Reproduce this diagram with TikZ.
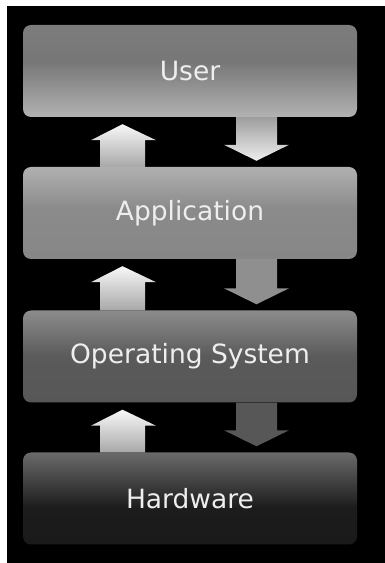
\documentclass[tikz,border=0pt]{standalone}
\usepackage{fontspec}
\setmainfont{DejaVu Sans}
\usetikzlibrary{calc}
\definecolor{ua}{HTML}{7C7C7C}
\definecolor{ub}{HTML}{777777}
\definecolor{uc}{HTML}{B2B2B2}
\definecolor{aa}{HTML}{B0B0B0}
\definecolor{ab}{HTML}{8A8A8A}
\definecolor{ac}{HTML}{878787}
\definecolor{oa}{HTML}{8C8C8C}
\definecolor{ob}{HTML}{5A5A5A}
\definecolor{oc}{HTML}{575757}
\definecolor{ha}{HTML}{6A6A6A}
\definecolor{hb}{HTML}{1C1C1C}
\definecolor{hc}{HTML}{1A1A1A}
\definecolor{txt}{HTML}{EEEEEE}
\pgfdeclareverticalshading{usershade}{100bp}{color(0bp)=(uc); color(25bp)=(uc); color(55bp)=(ub); color(75bp)=(ua); color(100bp)=(ua)}
\pgfdeclareverticalshading{appshade}{100bp}{color(0bp)=(ac); color(25bp)=(ac); color(52bp)=(ab); color(75bp)=(aa); color(100bp)=(aa)}
\pgfdeclareverticalshading{osshade}{100bp}{color(0bp)=(oc); color(25bp)=(oc); color(50bp)=(ob); color(75bp)=(oa); color(100bp)=(oa)}
\pgfdeclareverticalshading{hwshade}{100bp}{color(0bp)=(hc); color(25bp)=(hc); color(45bp)=(hb); color(75bp)=(ha); color(100bp)=(ha)}
\newcommand\dnblock[3]{%
  \path[#3] let \p1=(#1.south), \p2=(#2.north) in
    (236pt,\y1) -- (277pt,\y1) -- (277pt,{\y2+22pt}) -- (289pt,{\y2+22pt})
    -- (256.5pt,{\y2+6pt}) -- (224pt,{\y2+22pt}) -- (236pt,{\y2+22pt}) -- cycle;}
\newcommand\upblock[3]{%
  \path[#3] let \p1=(#1.south), \p2=(#2.north) in
    (100pt,\y2) -- (145pt,\y2) -- (145pt,{\y1-23pt}) -- (156pt,{\y1-23pt})
    -- (122.5pt,{\y1-7pt}) -- (91pt,{\y1-23pt}) -- (100pt,{\y1-23pt}) -- cycle;}
\tikzset{
  layer/.style={rounded corners=8pt, minimum width=334pt, minimum height=92pt,
    inner sep=0pt, text=txt, font=\fontsize{26.5}{30}\selectfont},
  uparrow/.style={shade, top color=white!97!black, bottom color=black!34},
}
\begin{document}
\begin{tikzpicture}[x=1pt,y=1pt]
  \useasboundingbox (0,0) rectangle (385,563);
  \fill[white] (0,0) rectangle (385,563);
  \fill[black] (7,0) rectangle (385,557);
  \node[layer, shading=usershade] (user) at (190,492) {User};
  \node[layer, shading=appshade] (app) at (190,350) {Application};
  \node[layer, shading=osshade] (os) at (190,206.5) {Operating System};
  \node[layer, shading=hwshade] (hw) at (190,64.5) {Hardware};
  \dnblock{user}{app}{shade, top color=black!38, bottom color=black!7}
  \dnblock{app}{os}{fill=black!44}
  \dnblock{os}{hw}{fill=black!66}
  \upblock{user}{app}{uparrow}
  \upblock{app}{os}{uparrow}
  \upblock{os}{hw}{uparrow}
\end{tikzpicture}
\end{document}
